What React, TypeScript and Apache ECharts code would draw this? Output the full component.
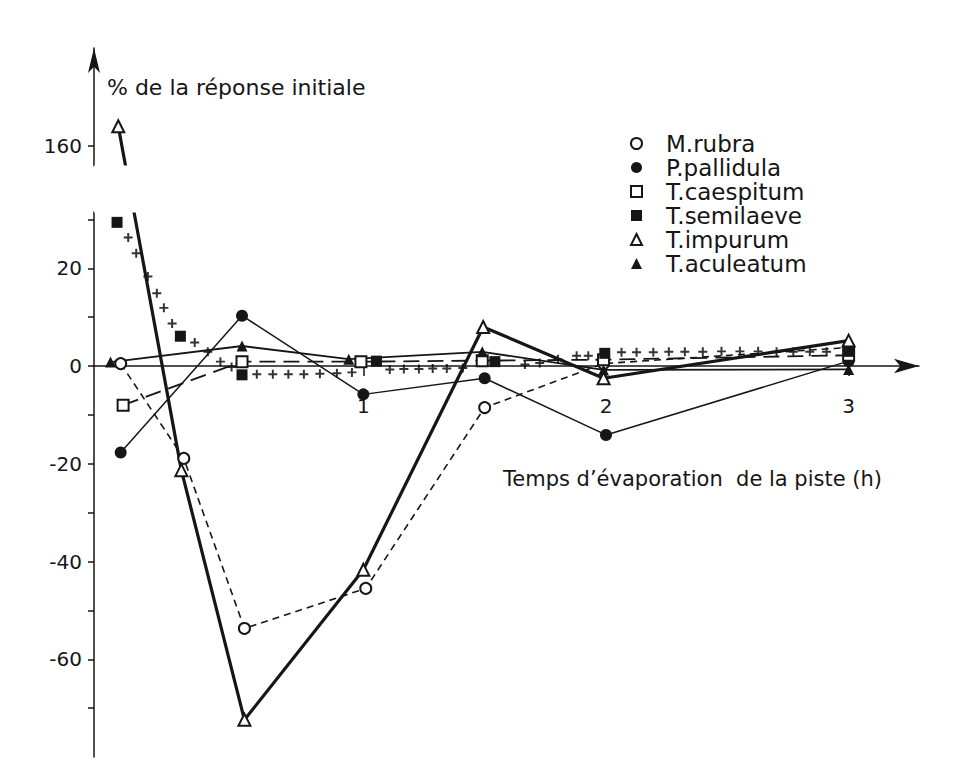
import React, { useEffect, useRef } from "react";
import * as echarts from "echarts";

const FONT = '"DejaVu Sans", "Liberation Sans", sans-serif';
const INK = "#161616";

// Temps d'évaporation de la piste (h) -> % de la réponse initiale
const rubraT = [0, 0.26, 0.51, 1.01, 1.5, 1.99, 3];
const rubraV = [0.5, -18.9, -53.7, -45.5, -8.5, 0.5, 3.8];

const pallidulaT = [0, 0.5, 1.0, 1.5, 2.0, 3];
const pallidulaV = [-17.7, 10.3, -5.8, -2.5, -14.1, 1.0];

const caespitumT = [0.01, 0.5, 0.99, 1.49, 1.99, 3];
const caespitumV = [-8.0, 0.9, 0.9, 1.1, 1.3, 2.2];

const semilaeveT = [-0.015, 0.246, 0.5, 1.054, 1.542, 1.995, 3];
const semilaeveV = [29.4, 6.1, -1.8, 1.0, 0.9, 2.6, 3.0];

const impurumT = [-0.01, 0.25, 0.51, 1.0, 1.494, 1.99, 3];
const impurumV = [164, -21.3, -72.4, -41.7, 8.0, -2.5, 5.2];

const aculeatumT = [-0.042, 0.5, 0.94, 1.49, 1.99, 3];
const aculeatumV = [0.8, 4.1, 1.4, 2.9, -0.8, -0.7];

// crosses that trace the T. semilaeve curve
const semilaeveCurveT = [
  0.031, 0.064, 0.112, 0.149, 0.178, 0.212, 0.305, 0.359, 0.411, 0.457,
  0.561, 0.627, 0.691, 0.755, 0.821, 0.891, 0.953, 1.109, 1.167, 1.229,
  1.286, 1.344, 1.41, 1.666, 1.727, 1.802, 1.879, 1.927, 2.064, 2.126,
  2.195, 2.259, 2.325, 2.399, 2.476, 2.552, 2.627, 2.703, 2.772, 2.84, 2.909,
];
const semilaeveCurveV = [
  26.3, 23.1, 18.3, 14.9, 11.9, 8.7, 4.8, 2.9, 0.9, -0.2,
  -1.7, -1.7, -1.7, -1.7, -1.6, -1.5, -1.3, -0.7, -0.6, -0.6,
  -0.5, -0.5, -0.4, 0.3, 0.6, 1.4, 2.1, 2.1, 2.8, 2.8,
  2.8, 2.9, 2.9, 2.9, 3.0, 3.0, 3.0, 2.9, 2.9, 2.9, 2.9,
];

const xLabelValues = [1, 2, 3];
const yLabelValues = [160, 20, 0, -20, -40, -60];
const yTickValues = [160, 30, 20, 10, 0, -10, -20, -30, -40, -50, -60, -70];

const CROSS = "path://M3.9,0 L6.1,0 L6.1,3.9 L10,3.9 L10,6.1 L6.1,6.1 L6.1,10 L3.9,10 L3.9,6.1 L0,6.1 L0,3.9 L3.9,3.9 Z";

const pairs = (t: number[], v: number[]) => t.map((x, i) => [x, v[i]]);

function speciesSeries(
  name: string,
  t: number[],
  v: number[],
  symbol: string,
  size: number,
  lineStyle: Record<string, unknown>,
  empty: boolean
) {
  return {
    name,
    type: "line",
    data: pairs(t, v),
    symbol,
    symbolSize: size,
    showSymbol: true,
    showAllSymbol: true,
    itemStyle: {
      color: INK,
      borderColor: INK,
      borderWidth: empty ? 1.6 : 0,
    },
    lineStyle: { color: INK, ...lineStyle },
    emphasis: { disabled: true },
    silent: true,
  };
}

// grid geometry (page pixels)
const GRID_TOP = 48;
const GRID_BOTTOM = 22;
const CHART_H = 779;
const Y_MIN = -80;
const Y_MAX = 180;
const BREAK_START = 31.5;
const BREAK_END = 156;
const BREAK_GAP = 0.066;

export default function App() {
  const ref = useRef<HTMLDivElement>(null);

  useEffect(() => {
    if (!ref.current) return;
    const chart = echarts.init(ref.current, null, { renderer: "svg" });

    // distance from the grid's bottom edge up to the zero line, so the
    // time axis (line, ticks and labels) sits on y = 0
    const plotH = CHART_H - GRID_TOP - GRID_BOTTOM;
    const unitPx =
      (plotH * (1 - BREAK_GAP)) /
      (Y_MAX - Y_MIN - (BREAK_END - BREAK_START));
    const zeroOffset = -(0 - Y_MIN) * unitPx;

    chart.setOption({
      animation: false,
      backgroundColor: "#ffffff",
      grid: {
        left: 94,
        right: 52,
        top: GRID_TOP,
        bottom: GRID_BOTTOM,
        containLabel: false,
        outerBoundsMode: "none",
      },
      xAxis: {
        type: "value",
        min: -0.11,
        max: 3.29,
        offset: zeroOffset,
        axisLine: {
          onZero: false,
          symbol: ["none", "arrow"],
          symbolSize: [11, 25],
          lineStyle: { color: INK, width: 1.5 },
        },
        axisTick: {
          show: true,
          customValues: xLabelValues,
          length: 10,
          lineStyle: { color: INK, width: 1.5 },
        },
        axisLabel: {
          customValues: xLabelValues,
          margin: 30,
          fontFamily: FONT,
          fontSize: 20,
          color: INK,
        },
        splitLine: { show: false },
      },
      yAxis: {
        type: "value",
        min: Y_MIN,
        max: Y_MAX,
        breaks: [
          { start: BREAK_START, end: BREAK_END, gap: `${BREAK_GAP * 100}%` },
        ],
        breakArea: {
          show: true,
          itemStyle: { color: "#ffffff", borderWidth: 0, opacity: 1 },
          zigzagAmplitude: 0,
          zigzagZ: 100,
          expandOnClick: false,
        },
        axisLine: {
          show: true,
          onZero: false,
          symbol: ["none", "arrow"],
          symbolSize: [9, 25],
          lineStyle: { color: INK, width: 1.5 },
        },
        axisTick: {
          show: true,
          customValues: yTickValues,
          length: 6,
          lineStyle: { color: INK, width: 1.5 },
        },
        axisLabel: {
          customValues: yLabelValues,
          margin: 12,
          fontFamily: FONT,
          fontSize: 20,
          color: INK,
        },
        splitLine: { show: false },
      },
      legend: {
        orient: "vertical",
        left: 625,
        top: 127,
        z: 300,
        itemWidth: 11,
        itemHeight: 11,
        itemGap: 1,
        selectedMode: false,
        textStyle: {
          fontFamily: FONT,
          fontSize: 23,
          color: INK,
          padding: [0, 0, 0, 19],
        },
        data: [
          { name: "M.rubra", icon: "emptyCircle" },
          { name: "P.pallidula", icon: "circle" },
          { name: "T.caespitum", icon: "emptyRect" },
          { name: "T.semilaeve", icon: "rect" },
          { name: "T.impurum", icon: "emptyTriangle" },
          { name: "T.aculeatum", icon: "triangle" },
        ],
      },
      graphic: [
        {
          type: "text",
          x: 107,
          y: 87,
          z: 300,
          silent: true,
          style: {
            text: "% de la réponse initiale",
            font: `22px ${FONT}`,
            fill: INK,
            verticalAlign: "middle",
          },
        },
        {
          type: "text",
          x: 503,
          y: 479,
          z: 300,
          silent: true,
          style: {
            text: "Temps d’évaporation  de la piste (h)",
            font: `21px ${FONT}`,
            fill: INK,
            verticalAlign: "middle",
          },
        },
      ],
      series: [
        {
          name: "semilaeve-curve",
          type: "scatter",
          data: pairs(semilaeveCurveT, semilaeveCurveV),
          symbol: CROSS,
          symbolSize: 9,
          itemStyle: { color: "#000000" },
          emphasis: { disabled: true },
          silent: true,
        },
        speciesSeries("M.rubra", rubraT, rubraV, "emptyCircle", 11,
          { width: 1.6, type: [7, 5] }, true),
        speciesSeries("P.pallidula", pallidulaT, pallidulaV, "circle", 12,
          { width: 1.5 }, false),
        speciesSeries("T.caespitum", caespitumT, caespitumV, "emptyRect", 11,
          { width: 1.8, type: [16, 8] }, true),
        speciesSeries("T.semilaeve", semilaeveT, semilaeveV, "rect", 11,
          { width: 0, opacity: 0 }, false),
        speciesSeries("T.aculeatum", aculeatumT, aculeatumV, "triangle", 11,
          { width: 1.8 }, false),
        speciesSeries("T.impurum", impurumT, impurumV, "emptyTriangle", 12,
          { width: 3.2 }, true),
      ],
    });

    return () => chart.dispose();
  }, []);

  return (
    <div
      ref={ref}
      style={{ position: "fixed", left: 0, top: 0, width: 971, height: CHART_H }}
    />
  );
}
